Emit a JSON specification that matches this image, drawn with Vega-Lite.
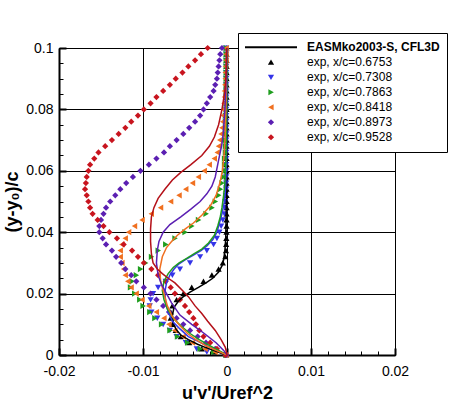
{
  "$schema": "https://vega.github.io/schema/vega-lite/v6.json",
  "width": 336,
  "height": 307,
  "autosize": {"type": "none"},
  "padding": {"left": 59, "top": 48, "right": 55, "bottom": 46},
  "background": "white",
  "config": {
    "view": {"stroke": "black", "strokeWidth": 1},
    "font": "Liberation Sans",
    "axis": {
      "labelFont": "Liberation Sans",
      "titleFont": "Liberation Sans",
      "domainColor": "black",
      "tickColor": "black",
      "gridColor": "black",
      "gridOpacity": 1,
      "labelColor": "black",
      "titleColor": "black",
      "labelFlush": false,
      "labelOverlap": false
    },
    "legend": {
      "labelFontWeight": {"expr": "datum.label === 'EASMko2003-S, CFL3D' ? 'bold' : 'normal'"}
    }
  },
  "datasets": {
    "exp": [
      {"label": "exp, x/c=0.6753", "y": 0.1, "u": -0.00005},
      {"label": "exp, x/c=0.6753", "y": 0.098, "u": -0.00005},
      {"label": "exp, x/c=0.6753", "y": 0.096, "u": -0.00005},
      {"label": "exp, x/c=0.6753", "y": 0.094, "u": -0.00005},
      {"label": "exp, x/c=0.6753", "y": 0.092, "u": -0.00005},
      {"label": "exp, x/c=0.6753", "y": 0.09, "u": -0.00005},
      {"label": "exp, x/c=0.6753", "y": 0.088, "u": -0.00005},
      {"label": "exp, x/c=0.6753", "y": 0.086, "u": -0.00005},
      {"label": "exp, x/c=0.6753", "y": 0.084, "u": -0.00005},
      {"label": "exp, x/c=0.6753", "y": 0.082, "u": -0.00005},
      {"label": "exp, x/c=0.6753", "y": 0.08, "u": -0.00005},
      {"label": "exp, x/c=0.6753", "y": 0.078, "u": -0.00005},
      {"label": "exp, x/c=0.6753", "y": 0.076, "u": -0.00005},
      {"label": "exp, x/c=0.6753", "y": 0.074, "u": -0.00005},
      {"label": "exp, x/c=0.6753", "y": 0.072, "u": -0.00005},
      {"label": "exp, x/c=0.6753", "y": 0.07, "u": -0.00005},
      {"label": "exp, x/c=0.6753", "y": 0.068, "u": -0.00005},
      {"label": "exp, x/c=0.6753", "y": 0.066, "u": -0.00005},
      {"label": "exp, x/c=0.6753", "y": 0.064, "u": -0.00005},
      {"label": "exp, x/c=0.6753", "y": 0.062, "u": -0.00005},
      {"label": "exp, x/c=0.6753", "y": 0.06, "u": -0.00005},
      {"label": "exp, x/c=0.6753", "y": 0.058, "u": -0.00005},
      {"label": "exp, x/c=0.6753", "y": 0.056, "u": -0.00005},
      {"label": "exp, x/c=0.6753", "y": 0.054, "u": -0.00005},
      {"label": "exp, x/c=0.6753", "y": 0.052, "u": -0.00005},
      {"label": "exp, x/c=0.6753", "y": 0.05, "u": -0.00005},
      {"label": "exp, x/c=0.6753", "y": 0.048, "u": -0.00005},
      {"label": "exp, x/c=0.6753", "y": 0.046, "u": -0.00005},
      {"label": "exp, x/c=0.6753", "y": 0.044, "u": -0.00005},
      {"label": "exp, x/c=0.6753", "y": 0.042, "u": -0.00005},
      {"label": "exp, x/c=0.6753", "y": 0.04, "u": -0.00006},
      {"label": "exp, x/c=0.6753", "y": 0.038, "u": -0.00008},
      {"label": "exp, x/c=0.6753", "y": 0.036, "u": -0.0001},
      {"label": "exp, x/c=0.6753", "y": 0.034, "u": -0.00012},
      {"label": "exp, x/c=0.6753", "y": 0.032, "u": -0.0002},
      {"label": "exp, x/c=0.6753", "y": 0.03, "u": -0.0005},
      {"label": "exp, x/c=0.6753", "y": 0.028, "u": -0.001},
      {"label": "exp, x/c=0.6753", "y": 0.026, "u": -0.0018},
      {"label": "exp, x/c=0.6753", "y": 0.024, "u": -0.0028},
      {"label": "exp, x/c=0.6753", "y": 0.022, "u": -0.0042},
      {"label": "exp, x/c=0.6753", "y": 0.02, "u": -0.0052},
      {"label": "exp, x/c=0.6753", "y": 0.018, "u": -0.006},
      {"label": "exp, x/c=0.6753", "y": 0.016, "u": -0.0065},
      {"label": "exp, x/c=0.6753", "y": 0.014, "u": -0.0067},
      {"label": "exp, x/c=0.6753", "y": 0.012, "u": -0.0067},
      {"label": "exp, x/c=0.6753", "y": 0.01, "u": -0.0065},
      {"label": "exp, x/c=0.6753", "y": 0.008, "u": -0.0061},
      {"label": "exp, x/c=0.6753", "y": 0.006, "u": -0.0055},
      {"label": "exp, x/c=0.6753", "y": 0.004, "u": -0.0045},
      {"label": "exp, x/c=0.6753", "y": 0.002, "u": -0.003},
      {"label": "exp, x/c=0.6753", "y": 0.001, "u": -0.0015},
      {"label": "exp, x/c=0.6753", "y": 0, "u": -0.0001},

      {"label": "exp, x/c=0.7308", "y": 0.1, "u": -0.0001},
      {"label": "exp, x/c=0.7308", "y": 0.098, "u": -0.0001},
      {"label": "exp, x/c=0.7308", "y": 0.096, "u": -0.0001},
      {"label": "exp, x/c=0.7308", "y": 0.094, "u": -0.0001},
      {"label": "exp, x/c=0.7308", "y": 0.092, "u": -0.0001},
      {"label": "exp, x/c=0.7308", "y": 0.09, "u": -0.0001},
      {"label": "exp, x/c=0.7308", "y": 0.088, "u": -0.0001},
      {"label": "exp, x/c=0.7308", "y": 0.086, "u": -0.0001},
      {"label": "exp, x/c=0.7308", "y": 0.084, "u": -0.0001},
      {"label": "exp, x/c=0.7308", "y": 0.082, "u": -0.0001},
      {"label": "exp, x/c=0.7308", "y": 0.08, "u": -0.0001},
      {"label": "exp, x/c=0.7308", "y": 0.078, "u": -0.0001},
      {"label": "exp, x/c=0.7308", "y": 0.076, "u": -0.0001},
      {"label": "exp, x/c=0.7308", "y": 0.074, "u": -0.0001},
      {"label": "exp, x/c=0.7308", "y": 0.072, "u": -0.0001},
      {"label": "exp, x/c=0.7308", "y": 0.07, "u": -0.0001},
      {"label": "exp, x/c=0.7308", "y": 0.068, "u": -0.0001},
      {"label": "exp, x/c=0.7308", "y": 0.066, "u": -0.0001},
      {"label": "exp, x/c=0.7308", "y": 0.064, "u": -0.0001},
      {"label": "exp, x/c=0.7308", "y": 0.062, "u": -0.0001},
      {"label": "exp, x/c=0.7308", "y": 0.06, "u": -0.0001},
      {"label": "exp, x/c=0.7308", "y": 0.058, "u": -0.0001},
      {"label": "exp, x/c=0.7308", "y": 0.056, "u": -0.0001},
      {"label": "exp, x/c=0.7308", "y": 0.054, "u": -0.0001},
      {"label": "exp, x/c=0.7308", "y": 0.052, "u": -0.00015},
      {"label": "exp, x/c=0.7308", "y": 0.05, "u": -0.0002},
      {"label": "exp, x/c=0.7308", "y": 0.048, "u": -0.00025},
      {"label": "exp, x/c=0.7308", "y": 0.046, "u": -0.0003},
      {"label": "exp, x/c=0.7308", "y": 0.044, "u": -0.0005},
      {"label": "exp, x/c=0.7308", "y": 0.042, "u": -0.0007},
      {"label": "exp, x/c=0.7308", "y": 0.04, "u": -0.0009},
      {"label": "exp, x/c=0.7308", "y": 0.038, "u": -0.0012},
      {"label": "exp, x/c=0.7308", "y": 0.036, "u": -0.0016},
      {"label": "exp, x/c=0.7308", "y": 0.034, "u": -0.0024},
      {"label": "exp, x/c=0.7308", "y": 0.032, "u": -0.0032},
      {"label": "exp, x/c=0.7308", "y": 0.03, "u": -0.0044},
      {"label": "exp, x/c=0.7308", "y": 0.028, "u": -0.0056},
      {"label": "exp, x/c=0.7308", "y": 0.026, "u": -0.0065},
      {"label": "exp, x/c=0.7308", "y": 0.024, "u": -0.0073},
      {"label": "exp, x/c=0.7308", "y": 0.022, "u": -0.0082},
      {"label": "exp, x/c=0.7308", "y": 0.02, "u": -0.0088},
      {"label": "exp, x/c=0.7308", "y": 0.018, "u": -0.0091},
      {"label": "exp, x/c=0.7308", "y": 0.016, "u": -0.0092},
      {"label": "exp, x/c=0.7308", "y": 0.014, "u": -0.009},
      {"label": "exp, x/c=0.7308", "y": 0.012, "u": -0.0083},
      {"label": "exp, x/c=0.7308", "y": 0.01, "u": -0.0076},
      {"label": "exp, x/c=0.7308", "y": 0.008, "u": -0.0068},
      {"label": "exp, x/c=0.7308", "y": 0.006, "u": -0.006},
      {"label": "exp, x/c=0.7308", "y": 0.004, "u": -0.0049},
      {"label": "exp, x/c=0.7308", "y": 0.002, "u": -0.0036},
      {"label": "exp, x/c=0.7308", "y": 0.001, "u": -0.0024},
      {"label": "exp, x/c=0.7308", "y": 0, "u": -0.0002},

      {"label": "exp, x/c=0.7863", "y": 0.1, "u": -0.0001},
      {"label": "exp, x/c=0.7863", "y": 0.098, "u": -0.0001},
      {"label": "exp, x/c=0.7863", "y": 0.096, "u": -0.0001},
      {"label": "exp, x/c=0.7863", "y": 0.094, "u": -0.0001},
      {"label": "exp, x/c=0.7863", "y": 0.092, "u": -0.0001},
      {"label": "exp, x/c=0.7863", "y": 0.09, "u": -0.0001},
      {"label": "exp, x/c=0.7863", "y": 0.088, "u": -0.0001},
      {"label": "exp, x/c=0.7863", "y": 0.086, "u": -0.0001},
      {"label": "exp, x/c=0.7863", "y": 0.084, "u": -0.0001},
      {"label": "exp, x/c=0.7863", "y": 0.082, "u": -0.0001},
      {"label": "exp, x/c=0.7863", "y": 0.08, "u": -0.0001},
      {"label": "exp, x/c=0.7863", "y": 0.078, "u": -0.0002},
      {"label": "exp, x/c=0.7863", "y": 0.076, "u": -0.0002},
      {"label": "exp, x/c=0.7863", "y": 0.074, "u": -0.0002},
      {"label": "exp, x/c=0.7863", "y": 0.072, "u": -0.0002},
      {"label": "exp, x/c=0.7863", "y": 0.07, "u": -0.0002},
      {"label": "exp, x/c=0.7863", "y": 0.068, "u": -0.0002},
      {"label": "exp, x/c=0.7863", "y": 0.066, "u": -0.0002},
      {"label": "exp, x/c=0.7863", "y": 0.064, "u": -0.0003},
      {"label": "exp, x/c=0.7863", "y": 0.062, "u": -0.0003},
      {"label": "exp, x/c=0.7863", "y": 0.06, "u": -0.0003},
      {"label": "exp, x/c=0.7863", "y": 0.058, "u": -0.0004},
      {"label": "exp, x/c=0.7863", "y": 0.056, "u": -0.0006},
      {"label": "exp, x/c=0.7863", "y": 0.054, "u": -0.0008},
      {"label": "exp, x/c=0.7863", "y": 0.052, "u": -0.001},
      {"label": "exp, x/c=0.7863", "y": 0.05, "u": -0.0014},
      {"label": "exp, x/c=0.7863", "y": 0.048, "u": -0.0018},
      {"label": "exp, x/c=0.7863", "y": 0.046, "u": -0.0025},
      {"label": "exp, x/c=0.7863", "y": 0.044, "u": -0.0034},
      {"label": "exp, x/c=0.7863", "y": 0.042, "u": -0.0042},
      {"label": "exp, x/c=0.7863", "y": 0.04, "u": -0.005},
      {"label": "exp, x/c=0.7863", "y": 0.038, "u": -0.0062},
      {"label": "exp, x/c=0.7863", "y": 0.036, "u": -0.0073},
      {"label": "exp, x/c=0.7863", "y": 0.034, "u": -0.0082},
      {"label": "exp, x/c=0.7863", "y": 0.032, "u": -0.009},
      {"label": "exp, x/c=0.7863", "y": 0.03, "u": -0.0097},
      {"label": "exp, x/c=0.7863", "y": 0.028, "u": -0.0103},
      {"label": "exp, x/c=0.7863", "y": 0.026, "u": -0.0108},
      {"label": "exp, x/c=0.7863", "y": 0.024, "u": -0.0113},
      {"label": "exp, x/c=0.7863", "y": 0.022, "u": -0.0115},
      {"label": "exp, x/c=0.7863", "y": 0.02, "u": -0.011},
      {"label": "exp, x/c=0.7863", "y": 0.018, "u": -0.0104},
      {"label": "exp, x/c=0.7863", "y": 0.016, "u": -0.01},
      {"label": "exp, x/c=0.7863", "y": 0.014, "u": -0.0092},
      {"label": "exp, x/c=0.7863", "y": 0.012, "u": -0.0086},
      {"label": "exp, x/c=0.7863", "y": 0.01, "u": -0.0078},
      {"label": "exp, x/c=0.7863", "y": 0.008, "u": -0.0068},
      {"label": "exp, x/c=0.7863", "y": 0.006, "u": -0.0059},
      {"label": "exp, x/c=0.7863", "y": 0.004, "u": -0.0047},
      {"label": "exp, x/c=0.7863", "y": 0.002, "u": -0.0032},
      {"label": "exp, x/c=0.7863", "y": 0.001, "u": -0.0016},
      {"label": "exp, x/c=0.7863", "y": 0, "u": -0.0001},

      {"label": "exp, x/c=0.8418", "y": 0.1, "u": -0.0001},
      {"label": "exp, x/c=0.8418", "y": 0.098, "u": -0.0001},
      {"label": "exp, x/c=0.8418", "y": 0.096, "u": -0.0001},
      {"label": "exp, x/c=0.8418", "y": 0.094, "u": -0.00015},
      {"label": "exp, x/c=0.8418", "y": 0.092, "u": -0.0002},
      {"label": "exp, x/c=0.8418", "y": 0.09, "u": -0.0002},
      {"label": "exp, x/c=0.8418", "y": 0.088, "u": -0.00025},
      {"label": "exp, x/c=0.8418", "y": 0.086, "u": -0.0003},
      {"label": "exp, x/c=0.8418", "y": 0.084, "u": -0.0003},
      {"label": "exp, x/c=0.8418", "y": 0.082, "u": -0.00035},
      {"label": "exp, x/c=0.8418", "y": 0.08, "u": -0.0004},
      {"label": "exp, x/c=0.8418", "y": 0.078, "u": -0.00045},
      {"label": "exp, x/c=0.8418", "y": 0.076, "u": -0.0005},
      {"label": "exp, x/c=0.8418", "y": 0.074, "u": -0.0006},
      {"label": "exp, x/c=0.8418", "y": 0.072, "u": -0.0007},
      {"label": "exp, x/c=0.8418", "y": 0.07, "u": -0.00085},
      {"label": "exp, x/c=0.8418", "y": 0.068, "u": -0.001},
      {"label": "exp, x/c=0.8418", "y": 0.066, "u": -0.00115},
      {"label": "exp, x/c=0.8418", "y": 0.064, "u": -0.0015},
      {"label": "exp, x/c=0.8418", "y": 0.062, "u": -0.0021},
      {"label": "exp, x/c=0.8418", "y": 0.06, "u": -0.0027},
      {"label": "exp, x/c=0.8418", "y": 0.058, "u": -0.0034},
      {"label": "exp, x/c=0.8418", "y": 0.056, "u": -0.0041},
      {"label": "exp, x/c=0.8418", "y": 0.054, "u": -0.0049},
      {"label": "exp, x/c=0.8418", "y": 0.052, "u": -0.0057},
      {"label": "exp, x/c=0.8418", "y": 0.05, "u": -0.0067},
      {"label": "exp, x/c=0.8418", "y": 0.048, "u": -0.0079},
      {"label": "exp, x/c=0.8418", "y": 0.046, "u": -0.009},
      {"label": "exp, x/c=0.8418", "y": 0.044, "u": -0.0101},
      {"label": "exp, x/c=0.8418", "y": 0.042, "u": -0.011},
      {"label": "exp, x/c=0.8418", "y": 0.04, "u": -0.0117},
      {"label": "exp, x/c=0.8418", "y": 0.038, "u": -0.0121},
      {"label": "exp, x/c=0.8418", "y": 0.036, "u": -0.0125},
      {"label": "exp, x/c=0.8418", "y": 0.034, "u": -0.0127},
      {"label": "exp, x/c=0.8418", "y": 0.032, "u": -0.0127},
      {"label": "exp, x/c=0.8418", "y": 0.03, "u": -0.0125},
      {"label": "exp, x/c=0.8418", "y": 0.028, "u": -0.0123},
      {"label": "exp, x/c=0.8418", "y": 0.026, "u": -0.0121},
      {"label": "exp, x/c=0.8418", "y": 0.024, "u": -0.0118},
      {"label": "exp, x/c=0.8418", "y": 0.022, "u": -0.0114},
      {"label": "exp, x/c=0.8418", "y": 0.02, "u": -0.0108},
      {"label": "exp, x/c=0.8418", "y": 0.018, "u": -0.0101},
      {"label": "exp, x/c=0.8418", "y": 0.016, "u": -0.0093},
      {"label": "exp, x/c=0.8418", "y": 0.014, "u": -0.0084},
      {"label": "exp, x/c=0.8418", "y": 0.012, "u": -0.0075},
      {"label": "exp, x/c=0.8418", "y": 0.01, "u": -0.0069},
      {"label": "exp, x/c=0.8418", "y": 0.008, "u": -0.0062},
      {"label": "exp, x/c=0.8418", "y": 0.006, "u": -0.0052},
      {"label": "exp, x/c=0.8418", "y": 0.004, "u": -0.0041},
      {"label": "exp, x/c=0.8418", "y": 0.002, "u": -0.0026},
      {"label": "exp, x/c=0.8418", "y": 0.001, "u": -0.0014},
      {"label": "exp, x/c=0.8418", "y": 0, "u": -0.0001},

      {"label": "exp, x/c=0.8973", "y": 0.1, "u": -0.0006},
      {"label": "exp, x/c=0.8973", "y": 0.098, "u": -0.0008},
      {"label": "exp, x/c=0.8973", "y": 0.096, "u": -0.0009},
      {"label": "exp, x/c=0.8973", "y": 0.094, "u": -0.001},
      {"label": "exp, x/c=0.8973", "y": 0.092, "u": -0.0011},
      {"label": "exp, x/c=0.8973", "y": 0.09, "u": -0.0012},
      {"label": "exp, x/c=0.8973", "y": 0.088, "u": -0.0014},
      {"label": "exp, x/c=0.8973", "y": 0.086, "u": -0.0016},
      {"label": "exp, x/c=0.8973", "y": 0.084, "u": -0.002},
      {"label": "exp, x/c=0.8973", "y": 0.082, "u": -0.0024},
      {"label": "exp, x/c=0.8973", "y": 0.08, "u": -0.0028},
      {"label": "exp, x/c=0.8973", "y": 0.078, "u": -0.0032},
      {"label": "exp, x/c=0.8973", "y": 0.076, "u": -0.0038},
      {"label": "exp, x/c=0.8973", "y": 0.074, "u": -0.0045},
      {"label": "exp, x/c=0.8973", "y": 0.072, "u": -0.0052},
      {"label": "exp, x/c=0.8973", "y": 0.07, "u": -0.006},
      {"label": "exp, x/c=0.8973", "y": 0.068, "u": -0.0068},
      {"label": "exp, x/c=0.8973", "y": 0.066, "u": -0.0075},
      {"label": "exp, x/c=0.8973", "y": 0.064, "u": -0.0084},
      {"label": "exp, x/c=0.8973", "y": 0.062, "u": -0.0093},
      {"label": "exp, x/c=0.8973", "y": 0.06, "u": -0.0103},
      {"label": "exp, x/c=0.8973", "y": 0.058, "u": -0.0112},
      {"label": "exp, x/c=0.8973", "y": 0.056, "u": -0.012},
      {"label": "exp, x/c=0.8973", "y": 0.054, "u": -0.0127},
      {"label": "exp, x/c=0.8973", "y": 0.052, "u": -0.0133},
      {"label": "exp, x/c=0.8973", "y": 0.05, "u": -0.0139},
      {"label": "exp, x/c=0.8973", "y": 0.048, "u": -0.0144},
      {"label": "exp, x/c=0.8973", "y": 0.046, "u": -0.0147},
      {"label": "exp, x/c=0.8973", "y": 0.044, "u": -0.015},
      {"label": "exp, x/c=0.8973", "y": 0.042, "u": -0.0152},
      {"label": "exp, x/c=0.8973", "y": 0.04, "u": -0.0152},
      {"label": "exp, x/c=0.8973", "y": 0.038, "u": -0.0148},
      {"label": "exp, x/c=0.8973", "y": 0.036, "u": -0.0144},
      {"label": "exp, x/c=0.8973", "y": 0.034, "u": -0.0137},
      {"label": "exp, x/c=0.8973", "y": 0.032, "u": -0.0132},
      {"label": "exp, x/c=0.8973", "y": 0.03, "u": -0.0126},
      {"label": "exp, x/c=0.8973", "y": 0.028, "u": -0.0121},
      {"label": "exp, x/c=0.8973", "y": 0.026, "u": -0.0114},
      {"label": "exp, x/c=0.8973", "y": 0.024, "u": -0.0108},
      {"label": "exp, x/c=0.8973", "y": 0.022, "u": -0.0099},
      {"label": "exp, x/c=0.8973", "y": 0.02, "u": -0.0091},
      {"label": "exp, x/c=0.8973", "y": 0.018, "u": -0.0084},
      {"label": "exp, x/c=0.8973", "y": 0.016, "u": -0.0076},
      {"label": "exp, x/c=0.8973", "y": 0.014, "u": -0.0069},
      {"label": "exp, x/c=0.8973", "y": 0.012, "u": -0.006},
      {"label": "exp, x/c=0.8973", "y": 0.01, "u": -0.0052},
      {"label": "exp, x/c=0.8973", "y": 0.008, "u": -0.0044},
      {"label": "exp, x/c=0.8973", "y": 0.006, "u": -0.0035},
      {"label": "exp, x/c=0.8973", "y": 0.004, "u": -0.0025},
      {"label": "exp, x/c=0.8973", "y": 0.002, "u": -0.0014},
      {"label": "exp, x/c=0.8973", "y": 0, "u": -0.0001},

      {"label": "exp, x/c=0.9528", "y": 0.1, "u": -0.0023},
      {"label": "exp, x/c=0.9528", "y": 0.098, "u": -0.0031},
      {"label": "exp, x/c=0.9528", "y": 0.096, "u": -0.0038},
      {"label": "exp, x/c=0.9528", "y": 0.094, "u": -0.0046},
      {"label": "exp, x/c=0.9528", "y": 0.092, "u": -0.0053},
      {"label": "exp, x/c=0.9528", "y": 0.09, "u": -0.0061},
      {"label": "exp, x/c=0.9528", "y": 0.088, "u": -0.0068},
      {"label": "exp, x/c=0.9528", "y": 0.086, "u": -0.0076},
      {"label": "exp, x/c=0.9528", "y": 0.084, "u": -0.0084},
      {"label": "exp, x/c=0.9528", "y": 0.082, "u": -0.0091},
      {"label": "exp, x/c=0.9528", "y": 0.08, "u": -0.0099},
      {"label": "exp, x/c=0.9528", "y": 0.078, "u": -0.0106},
      {"label": "exp, x/c=0.9528", "y": 0.076, "u": -0.0114},
      {"label": "exp, x/c=0.9528", "y": 0.074, "u": -0.0121},
      {"label": "exp, x/c=0.9528", "y": 0.072, "u": -0.0129},
      {"label": "exp, x/c=0.9528", "y": 0.07, "u": -0.0137},
      {"label": "exp, x/c=0.9528", "y": 0.068, "u": -0.0145},
      {"label": "exp, x/c=0.9528", "y": 0.066, "u": -0.0153},
      {"label": "exp, x/c=0.9528", "y": 0.064, "u": -0.0158},
      {"label": "exp, x/c=0.9528", "y": 0.062, "u": -0.0163},
      {"label": "exp, x/c=0.9528", "y": 0.06, "u": -0.0165},
      {"label": "exp, x/c=0.9528", "y": 0.058, "u": -0.0167},
      {"label": "exp, x/c=0.9528", "y": 0.056, "u": -0.0168},
      {"label": "exp, x/c=0.9528", "y": 0.054, "u": -0.0169},
      {"label": "exp, x/c=0.9528", "y": 0.052, "u": -0.0167},
      {"label": "exp, x/c=0.9528", "y": 0.05, "u": -0.0165},
      {"label": "exp, x/c=0.9528", "y": 0.048, "u": -0.0163},
      {"label": "exp, x/c=0.9528", "y": 0.046, "u": -0.016},
      {"label": "exp, x/c=0.9528", "y": 0.044, "u": -0.0154},
      {"label": "exp, x/c=0.9528", "y": 0.042, "u": -0.0147},
      {"label": "exp, x/c=0.9528", "y": 0.04, "u": -0.014},
      {"label": "exp, x/c=0.9528", "y": 0.038, "u": -0.0131},
      {"label": "exp, x/c=0.9528", "y": 0.036, "u": -0.0123},
      {"label": "exp, x/c=0.9528", "y": 0.034, "u": -0.0113},
      {"label": "exp, x/c=0.9528", "y": 0.032, "u": -0.0106},
      {"label": "exp, x/c=0.9528", "y": 0.03, "u": -0.0099},
      {"label": "exp, x/c=0.9528", "y": 0.028, "u": -0.009},
      {"label": "exp, x/c=0.9528", "y": 0.026, "u": -0.0082},
      {"label": "exp, x/c=0.9528", "y": 0.024, "u": -0.0073},
      {"label": "exp, x/c=0.9528", "y": 0.022, "u": -0.0067},
      {"label": "exp, x/c=0.9528", "y": 0.02, "u": -0.0062},
      {"label": "exp, x/c=0.9528", "y": 0.018, "u": -0.0056},
      {"label": "exp, x/c=0.9528", "y": 0.016, "u": -0.005},
      {"label": "exp, x/c=0.9528", "y": 0.014, "u": -0.0045},
      {"label": "exp, x/c=0.9528", "y": 0.012, "u": -0.004},
      {"label": "exp, x/c=0.9528", "y": 0.01, "u": -0.0037},
      {"label": "exp, x/c=0.9528", "y": 0.008, "u": -0.0033},
      {"label": "exp, x/c=0.9528", "y": 0.006, "u": -0.0028},
      {"label": "exp, x/c=0.9528", "y": 0.004, "u": -0.002},
      {"label": "exp, x/c=0.9528", "y": 0.002, "u": -0.0012},
      {"label": "exp, x/c=0.9528", "y": 0, "u": -0.0002}
    ],
    "cfd": [
      {"station": "0.6753", "y": 0.1, "u": 0},
      {"station": "0.6753", "y": 0.08, "u": -0.00003},
      {"station": "0.6753", "y": 0.06, "u": -0.00005},
      {"station": "0.6753", "y": 0.045, "u": -0.0001},
      {"station": "0.6753", "y": 0.038, "u": -0.00015},
      {"station": "0.6753", "y": 0.034, "u": -0.00025},
      {"station": "0.6753", "y": 0.031, "u": -0.0004},
      {"station": "0.6753", "y": 0.029, "u": -0.0006},
      {"station": "0.6753", "y": 0.027, "u": -0.001},
      {"station": "0.6753", "y": 0.025, "u": -0.0017},
      {"station": "0.6753", "y": 0.0235, "u": -0.0025},
      {"station": "0.6753", "y": 0.022, "u": -0.0034},
      {"station": "0.6753", "y": 0.0205, "u": -0.0044},
      {"station": "0.6753", "y": 0.019, "u": -0.0052},
      {"station": "0.6753", "y": 0.0175, "u": -0.0058},
      {"station": "0.6753", "y": 0.0155, "u": -0.0063},
      {"station": "0.6753", "y": 0.013, "u": -0.0065},
      {"station": "0.6753", "y": 0.0105, "u": -0.0064},
      {"station": "0.6753", "y": 0.0085, "u": -0.0061},
      {"station": "0.6753", "y": 0.0065, "u": -0.0055},
      {"station": "0.6753", "y": 0.005, "u": -0.0046},
      {"station": "0.6753", "y": 0.0035, "u": -0.0035},
      {"station": "0.6753", "y": 0.0025, "u": -0.0026},
      {"station": "0.6753", "y": 0.0015, "u": -0.0016},
      {"station": "0.6753", "y": 0.0005, "u": -0.0006},
      {"station": "0.6753", "y": 0, "u": 0},

      {"station": "0.7308", "y": 0.1, "u": 0},
      {"station": "0.7308", "y": 0.08, "u": -0.00003},
      {"station": "0.7308", "y": 0.065, "u": -0.00006},
      {"station": "0.7308", "y": 0.055, "u": -0.00015},
      {"station": "0.7308", "y": 0.05, "u": -0.0003},
      {"station": "0.7308", "y": 0.046, "u": -0.0006},
      {"station": "0.7308", "y": 0.043, "u": -0.0009},
      {"station": "0.7308", "y": 0.04, "u": -0.0012},
      {"station": "0.7308", "y": 0.0375, "u": -0.0017},
      {"station": "0.7308", "y": 0.0355, "u": -0.0024},
      {"station": "0.7308", "y": 0.034, "u": -0.0031},
      {"station": "0.7308", "y": 0.0325, "u": -0.004},
      {"station": "0.7308", "y": 0.031, "u": -0.005},
      {"station": "0.7308", "y": 0.0295, "u": -0.0058},
      {"station": "0.7308", "y": 0.028, "u": -0.0063},
      {"station": "0.7308", "y": 0.026, "u": -0.0068},
      {"station": "0.7308", "y": 0.0235, "u": -0.0072},
      {"station": "0.7308", "y": 0.0205, "u": -0.0074},
      {"station": "0.7308", "y": 0.017, "u": -0.0073},
      {"station": "0.7308", "y": 0.014, "u": -0.007},
      {"station": "0.7308", "y": 0.011, "u": -0.0065},
      {"station": "0.7308", "y": 0.0085, "u": -0.0056},
      {"station": "0.7308", "y": 0.006, "u": -0.0046},
      {"station": "0.7308", "y": 0.0045, "u": -0.0035},
      {"station": "0.7308", "y": 0.003, "u": -0.0024},
      {"station": "0.7308", "y": 0.0015, "u": -0.0012},
      {"station": "0.7308", "y": 0, "u": 0},

      {"station": "0.7863", "y": 0.1, "u": -0.00002},
      {"station": "0.7863", "y": 0.08, "u": -0.00005},
      {"station": "0.7863", "y": 0.065, "u": -0.0001},
      {"station": "0.7863", "y": 0.056, "u": -0.00025},
      {"station": "0.7863", "y": 0.052, "u": -0.0004},
      {"station": "0.7863", "y": 0.048, "u": -0.0006},
      {"station": "0.7863", "y": 0.045, "u": -0.0008},
      {"station": "0.7863", "y": 0.042, "u": -0.0011},
      {"station": "0.7863", "y": 0.039, "u": -0.0015},
      {"station": "0.7863", "y": 0.0365, "u": -0.0022},
      {"station": "0.7863", "y": 0.0345, "u": -0.003},
      {"station": "0.7863", "y": 0.033, "u": -0.0039},
      {"station": "0.7863", "y": 0.0315, "u": -0.0048},
      {"station": "0.7863", "y": 0.03, "u": -0.0057},
      {"station": "0.7863", "y": 0.0285, "u": -0.0064},
      {"station": "0.7863", "y": 0.0265, "u": -0.007},
      {"station": "0.7863", "y": 0.024, "u": -0.0075},
      {"station": "0.7863", "y": 0.021, "u": -0.0077},
      {"station": "0.7863", "y": 0.018, "u": -0.0075},
      {"station": "0.7863", "y": 0.015, "u": -0.0071},
      {"station": "0.7863", "y": 0.012, "u": -0.0064},
      {"station": "0.7863", "y": 0.0095, "u": -0.0055},
      {"station": "0.7863", "y": 0.007, "u": -0.0044},
      {"station": "0.7863", "y": 0.005, "u": -0.0033},
      {"station": "0.7863", "y": 0.003, "u": -0.002},
      {"station": "0.7863", "y": 0.0015, "u": -0.001},
      {"station": "0.7863", "y": 0, "u": 0},

      {"station": "0.8418", "y": 0.1, "u": -0.00005},
      {"station": "0.8418", "y": 0.085, "u": -0.0001},
      {"station": "0.8418", "y": 0.072, "u": -0.0002},
      {"station": "0.8418", "y": 0.065, "u": -0.00035},
      {"station": "0.8418", "y": 0.06, "u": -0.00055},
      {"station": "0.8418", "y": 0.056, "u": -0.00085},
      {"station": "0.8418", "y": 0.052, "u": -0.0013},
      {"station": "0.8418", "y": 0.0485, "u": -0.002},
      {"station": "0.8418", "y": 0.0455, "u": -0.003},
      {"station": "0.8418", "y": 0.043, "u": -0.004},
      {"station": "0.8418", "y": 0.041, "u": -0.005},
      {"station": "0.8418", "y": 0.039, "u": -0.0059},
      {"station": "0.8418", "y": 0.037, "u": -0.0066},
      {"station": "0.8418", "y": 0.035, "u": -0.0072},
      {"station": "0.8418", "y": 0.032, "u": -0.0077},
      {"station": "0.8418", "y": 0.028, "u": -0.008},
      {"station": "0.8418", "y": 0.024, "u": -0.0079},
      {"station": "0.8418", "y": 0.02, "u": -0.0075},
      {"station": "0.8418", "y": 0.016, "u": -0.0071},
      {"station": "0.8418", "y": 0.0125, "u": -0.0065},
      {"station": "0.8418", "y": 0.0095, "u": -0.0056},
      {"station": "0.8418", "y": 0.007, "u": -0.0047},
      {"station": "0.8418", "y": 0.005, "u": -0.0037},
      {"station": "0.8418", "y": 0.003, "u": -0.0025},
      {"station": "0.8418", "y": 0.0015, "u": -0.0013},
      {"station": "0.8418", "y": 0, "u": 0},

      {"station": "0.8973", "y": 0.1, "u": -0.00003},
      {"station": "0.8973", "y": 0.09, "u": -0.0001},
      {"station": "0.8973", "y": 0.08, "u": -0.00025},
      {"station": "0.8973", "y": 0.072, "u": -0.00045},
      {"station": "0.8973", "y": 0.068, "u": -0.00065},
      {"station": "0.8973", "y": 0.0635, "u": -0.001},
      {"station": "0.8973", "y": 0.058, "u": -0.0014},
      {"station": "0.8973", "y": 0.055, "u": -0.0018},
      {"station": "0.8973", "y": 0.0525, "u": -0.0024},
      {"station": "0.8973", "y": 0.05, "u": -0.0032},
      {"station": "0.8973", "y": 0.0475, "u": -0.0043},
      {"station": "0.8973", "y": 0.045, "u": -0.0055},
      {"station": "0.8973", "y": 0.0425, "u": -0.0068},
      {"station": "0.8973", "y": 0.04, "u": -0.0076},
      {"station": "0.8973", "y": 0.037, "u": -0.0081},
      {"station": "0.8973", "y": 0.034, "u": -0.0083},
      {"station": "0.8973", "y": 0.03, "u": -0.0084},
      {"station": "0.8973", "y": 0.026, "u": -0.0082},
      {"station": "0.8973", "y": 0.023, "u": -0.0078},
      {"station": "0.8973", "y": 0.02, "u": -0.0072},
      {"station": "0.8973", "y": 0.017, "u": -0.0066},
      {"station": "0.8973", "y": 0.013, "u": -0.0056},
      {"station": "0.8973", "y": 0.01, "u": -0.0042},
      {"station": "0.8973", "y": 0.007, "u": -0.0027},
      {"station": "0.8973", "y": 0.004, "u": -0.0013},
      {"station": "0.8973", "y": 0.0015, "u": -0.0004},
      {"station": "0.8973", "y": 0, "u": 0},

      {"station": "0.9528", "y": 0.1, "u": -0.00005},
      {"station": "0.9528", "y": 0.092, "u": -0.0001},
      {"station": "0.9528", "y": 0.086, "u": -0.00025},
      {"station": "0.9528", "y": 0.08, "u": -0.0006},
      {"station": "0.9528", "y": 0.075, "u": -0.001},
      {"station": "0.9528", "y": 0.071, "u": -0.0015},
      {"station": "0.9528", "y": 0.068, "u": -0.0021},
      {"station": "0.9528", "y": 0.065, "u": -0.003},
      {"station": "0.9528", "y": 0.062, "u": -0.0043},
      {"station": "0.9528", "y": 0.0595, "u": -0.0055},
      {"station": "0.9528", "y": 0.057, "u": -0.0065},
      {"station": "0.9528", "y": 0.054, "u": -0.0074},
      {"station": "0.9528", "y": 0.051, "u": -0.0082},
      {"station": "0.9528", "y": 0.048, "u": -0.0087},
      {"station": "0.9528", "y": 0.045, "u": -0.009},
      {"station": "0.9528", "y": 0.041, "u": -0.0091},
      {"station": "0.9528", "y": 0.037, "u": -0.0091},
      {"station": "0.9528", "y": 0.033, "u": -0.009},
      {"station": "0.9528", "y": 0.03, "u": -0.0088},
      {"station": "0.9528", "y": 0.028, "u": -0.0083},
      {"station": "0.9528", "y": 0.0265, "u": -0.0077},
      {"station": "0.9528", "y": 0.025, "u": -0.007},
      {"station": "0.9528", "y": 0.0235, "u": -0.0062},
      {"station": "0.9528", "y": 0.021, "u": -0.0053},
      {"station": "0.9528", "y": 0.019, "u": -0.0046},
      {"station": "0.9528", "y": 0.016, "u": -0.0038},
      {"station": "0.9528", "y": 0.0135, "u": -0.003},
      {"station": "0.9528", "y": 0.011, "u": -0.0023},
      {"station": "0.9528", "y": 0.008, "u": -0.0014},
      {"station": "0.9528", "y": 0.005, "u": -0.0007},
      {"station": "0.9528", "y": 0.0025, "u": -0.0002},
      {"station": "0.9528", "y": 0, "u": 0}
    ]
  },
  "layer": [
    {
      "data": {"name": "exp"},
      "mark": {"type": "point", "filled": true, "opacity": 1, "size": 2704, "strokeWidth": 0},
      "encoding": {
        "x": {
          "field": "u",
          "type": "quantitative",
          "scale": {"domain": [-0.02, 0.02], "nice": false, "zero": false},
          "axis": {
            "orient": "bottom",
            "values": [-0.02, -0.01, 0, 0.01, 0.02],
            "labelExpr": "'' + datum.value",
            "title": "u'v'/Uref^2",
            "titleFontSize": 18,
            "titleFontWeight": "bold",
            "titlePadding": 6,
            "labelFontSize": 14,
            "labelPadding": 16,
            "tickSize": -7,
            "tickWidth": 2,
            "grid": true,
            "gridWidth": 1,
            "domainWidth": 2
          }
        },
        "y": {
          "field": "y",
          "type": "quantitative",
          "scale": {"domain": [0, 0.1], "nice": false},
          "axis": {
            "orient": "left",
            "values": [0, 0.02, 0.04, 0.06, 0.08, 0.1],
            "labelExpr": "'' + datum.value",
            "title": "(y-y₀)/c",
            "titleFontSize": 18,
            "titleFontWeight": "bold",
            "titlePadding": 4,
            "labelFontSize": 14,
            "labelPadding": 13,
            "tickSize": -7,
            "tickWidth": 2,
            "grid": true,
            "gridWidth": 1,
            "domainWidth": 2
          }
        },
        "color": {
          "field": "label",
          "type": "nominal",
          "scale": {
            "domain": ["EASMko2003-S, CFL3D", "exp, x/c=0.6753", "exp, x/c=0.7308", "exp, x/c=0.7863", "exp, x/c=0.8418", "exp, x/c=0.8973", "exp, x/c=0.9528"],
            "range": ["#000000", "#000000", "#3434e8", "#1f9e1f", "#f07020", "#5b1fb2", "#c8141e"]
          },
          "legend": {
            "title": null,
            "orient": "none",
            "legendX": 179,
            "legendY": -15,
            "fillColor": "white",
            "strokeColor": "black",
            "padding": 7,
            "symbolSize": 2704,
            "clipHeight": 14.5,
            "rowPadding": 0,
            "symbolOffset": 0,
            "symbolStrokeWidth": 0,
            "labelFont": "Liberation Sans",
            "labelFontSize": 12,
            "labelColor": "black",
            "labelOffset": 10,
            "labelLimit": 0
          }
        },
        "shape": {
          "field": "label",
          "type": "nominal",
          "scale": {
            "domain": ["EASMko2003-S, CFL3D", "exp, x/c=0.6753", "exp, x/c=0.7308", "exp, x/c=0.7863", "exp, x/c=0.8418", "exp, x/c=0.8973", "exp, x/c=0.9528"],
            "range": [
              "M-1,-0.04H1V0.04H-1Z",
              "M0,-0.11L0.12,0.1L-0.12,0.1Z",
              "M0,0.11L0.12,-0.1L-0.12,-0.1Z",
              "M0.11,0L-0.1,0.12L-0.1,-0.12Z",
              "M-0.11,0L0.1,0.12L0.1,-0.12Z",
              "M0,-0.12L0.12,0L0,0.12L-0.12,0Z",
              "M0,-0.12L0.12,0L0,0.12L-0.12,0Z"
            ]
          },
          "legend": {
            "title": null,
            "orient": "none",
            "legendX": 179,
            "legendY": -15,
            "fillColor": "white",
            "strokeColor": "black",
            "padding": 7,
            "symbolSize": 2704,
            "clipHeight": 14.5,
            "rowPadding": 0,
            "symbolOffset": 0,
            "symbolStrokeWidth": 0,
            "labelFont": "Liberation Sans",
            "labelFontSize": 12,
            "labelColor": "black",
            "labelOffset": 10,
            "labelLimit": 0
          }
        }
      }
    },
    {
      "data": {"name": "cfd"},
      "mark": {"type": "line", "strokeWidth": 1.5, "clip": true},
      "encoding": {
        "x": {
          "field": "u",
          "type": "quantitative",
          "scale": {"domain": [-0.02, 0.02], "nice": false, "zero": false},
          "axis": {
            "orient": "bottom",
            "values": [-0.018, -0.016, -0.014, -0.012, -0.008, -0.006, -0.004, -0.002, 0.002, 0.004, 0.006, 0.008, 0.012, 0.014, 0.016, 0.018],
            "labels": false,
            "title": null,
            "grid": false,
            "domain": false,
            "tickSize": -4,
            "tickWidth": 1
          }
        },
        "y": {
          "field": "y",
          "type": "quantitative",
          "scale": {"domain": [0, 0.1], "nice": false},
          "axis": {
            "orient": "left",
            "values": [0.005, 0.01, 0.015, 0.025, 0.03, 0.035, 0.045, 0.05, 0.055, 0.065, 0.07, 0.075, 0.085, 0.09, 0.095],
            "labels": false,
            "title": null,
            "grid": false,
            "domain": false,
            "tickSize": -4,
            "tickWidth": 1
          }
        },
        "stroke": {
          "field": "station",
          "type": "nominal",
          "scale": {
            "domain": ["0.6753", "0.7308", "0.7863", "0.8418", "0.8973", "0.9528"],
            "range": ["#000000", "#3434e8", "#1f9e1f", "#f07020", "#5b1fb2", "#b41018"]
          },
          "legend": null
        },
        "order": {"field": "y", "type": "quantitative", "sort": "descending"}
      }
    }
  ],
  "resolve": {"axis": {"x": "independent", "y": "independent"}}
}
